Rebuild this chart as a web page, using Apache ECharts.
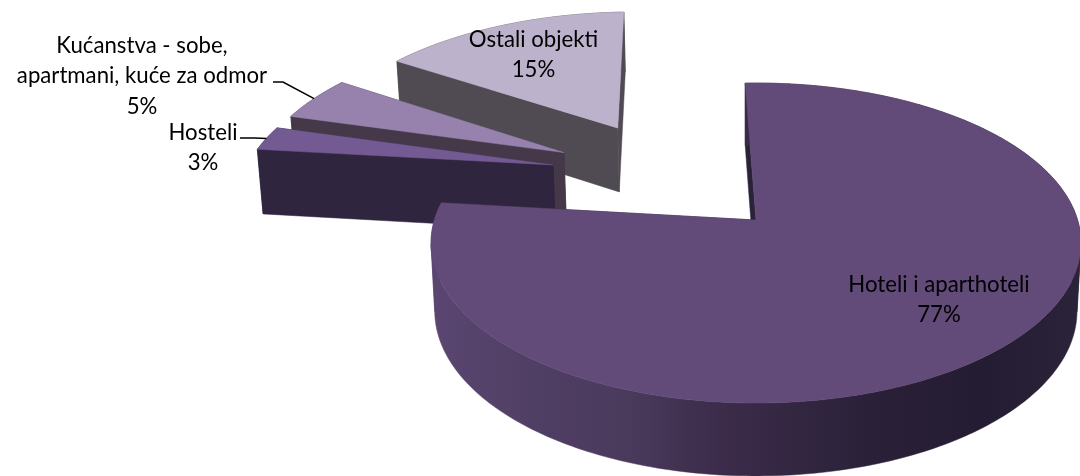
<!DOCTYPE html>
<html><head><meta charset="utf-8">
<style>html,body{margin:0;padding:0;background:#fff}#c{width:1080px;height:476px}</style>
<script src="https://cdn.jsdelivr.net/npm/echarts@6/dist/echarts.min.js"></script>
</head><body><div id="c"></div>
<script>
// Data, clockwise from the first slice (labels show them rounded)
var categories = ['Hoteli i aparthoteli', 'Hosteli', 'Kućanstva - sobe, apartmani, kuće za odmor', 'Ostali objekti'];
var labelTexts = ['Hoteli i aparthoteli', 'Hosteli', 'Kućanstva - sobe,\napartmani, kuće za odmor', 'Ostali objekti'];
var shares = [77.4, 2.6, 4.8, 15.2];

// Style per slice
var topColors = ['#624b78', '#735a92', '#9782ae', '#bdb2cb'];
var wallColors = ['#2a2238', '#30253f', '#443849', '#504a53'];

// Layout of the 3D pie
var view = {
  startAngle: -2.2, explode: 0.40, cx: 756, cy: 220, rx: 321.6, ry: 156.7, persp: 0.144,
  depth: 67, depthPow: 0.54, vanishX: 745, taper: 0.0118
};
var labelPlaces = [
  {x: 939, y: 300, line: null},
  {x: 203, y: 148, line: [[240, 138], [255, 138]]},
  {x: 142, y: 76, line: [[273, 82], [283, 82]]},
  {x: 533.5, y: 55, line: null}
];
var font = {family: 'Lato', size: 22.2, lineHeight: 30.5};

var total = shares.reduce(function (a, b) { return a + b; }, 0);
function rad(d) { return d * Math.PI / 180; }
function dir(deg) { return [Math.sin(rad(deg)), -Math.cos(rad(deg))]; }
function project(u, v) {
  var s = 1 / (1 - view.persp * v);
  return {x: view.cx + view.rx * u * s, y: view.cy + view.ry * v * s, s: s};
}
function drop(p) {
  return [p.x + (view.vanishX - p.x) * view.taper, p.y + view.depth * Math.pow(p.s, view.depthPow)];
}
function top2(p) { return [p.x, p.y]; }

var slices = [];
(function () {
  var a = view.startAngle;
  shares.forEach(function (val) {
    var sweep = val / total * 360;
    slices.push({a0: a, a1: a + sweep, mid: a + sweep / 2});
    a += sweep;
  });
  var ref = dir(slices[0].mid);
  slices.forEach(function (sl) {
    var d = dir(sl.mid);
    sl.ox = view.explode * (d[0] - ref[0]);
    sl.oy = view.explode * (d[1] - ref[1]);
  });
  var order = slices.map(function (s, i) { return i; }).sort(function (p, q) { return slices[p].oy - slices[q].oy; });
  order.forEach(function (idx, rank) { slices[idx].rank = rank; });
})();

function rimPoint(sl, deg) {
  var d = dir(deg);
  return project(sl.ox + d[0], sl.oy + d[1]);
}

function renderSlice(params, api) {
  var i = params.dataIndex;
  var sl = slices[i];
  var apex = project(sl.ox, sl.oy);
  var rim = [];
  var n = Math.max(4, Math.ceil(sl.a1 - sl.a0));
  for (var k = 0; k <= n; k++) rim.push(rimPoint(sl, sl.a0 + (sl.a1 - sl.a0) * k / n));
  var first = rim[0], last = rim[rim.length - 1];
  var zb = sl.rank * 20 + 1;
  var wall = wallColors[i];
  var rimFill = wall;
  if (i === 0) {
    rimFill = {
      type: 'linear', x: 430, y: 0, x2: 1080, y2: 0, global: true,
      colorStops: [
        {offset: 0, color: '#5a4671'}, {offset: 0.18, color: '#4f3e63'},
        {offset: 0.3, color: '#4a3a5c'}, {offset: 0.46, color: '#3b2b49'},
        {offset: 0.68, color: '#2a2138'}, {offset: 0.85, color: '#241c33'},
        {offset: 1, color: '#2b2339'}
      ]
    };
  }
  function poly(points, fill, z) {
    return {type: 'polygon', z2: zb + z, shape: {points: points},
      style: {fill: fill, stroke: fill, lineWidth: 0.5}};
  }
  var startWall = [top2(first), top2(apex), drop(apex), drop(first)];
  var endWall = [top2(last), top2(apex), drop(apex), drop(last)];
  var children = [poly(startWall, wall, 0), poly(endWall, wall, 1)];
  // Split the rim wall at its left and right extremes so that no piece crosses itself
  var iMin = 0, iMax = 0;
  rim.forEach(function (p, idx) {
    if (p.x < rim[iMin].x) iMin = idx;
    if (p.x > rim[iMax].x) iMax = idx;
  });
  var cuts = [0, iMin, iMax, rim.length - 1].sort(function (a, b) { return a - b; });
  for (var c = 0; c < cuts.length - 1; c++) {
    if (cuts[c + 1] > cuts[c]) {
      var seg = rim.slice(cuts[c], cuts[c + 1] + 1);
      children.push(poly(seg.map(top2).concat(seg.slice().reverse().map(drop)), rimFill, 2));
    }
  }
  if (i === 3) children[1].z2 = zb + 2.5;
  children.push(poly([top2(apex)].concat(rim.map(top2)), topColors[i], 3));
  var place = labelPlaces[i];
  if (place.line) {
    var e = rimPoint(sl, sl.mid);
    children.push({type: 'polyline', z2: 200, shape: {points: place.line.concat([[e.x, e.y]])},
      style: {fill: null, stroke: '#000', lineWidth: 1.5}});
  }
  children.push({type: 'text', z2: 300, style: {
    text: labelTexts[i] + '\n' + Math.round(api.value(0)) + '%',
    x: place.x, y: place.y, align: 'center', verticalAlign: 'middle',
    fontFamily: font.family, fontSize: font.size, lineHeight: font.lineHeight, fill: '#000'
  }});
  return {type: 'group', children: children};
}

var chart = echarts.init(document.getElementById('c'), null, {renderer: 'canvas'});
chart.setOption({
  animation: false,
  backgroundColor: '#fff',
  series: [{
    type: 'custom',
    coordinateSystem: 'none',
    silent: true,
    clip: false,
    data: shares.map(function (v, i) { return {name: categories[i], value: [v]}; }),
    renderItem: renderSlice
  }]
});
</script></body></html>
